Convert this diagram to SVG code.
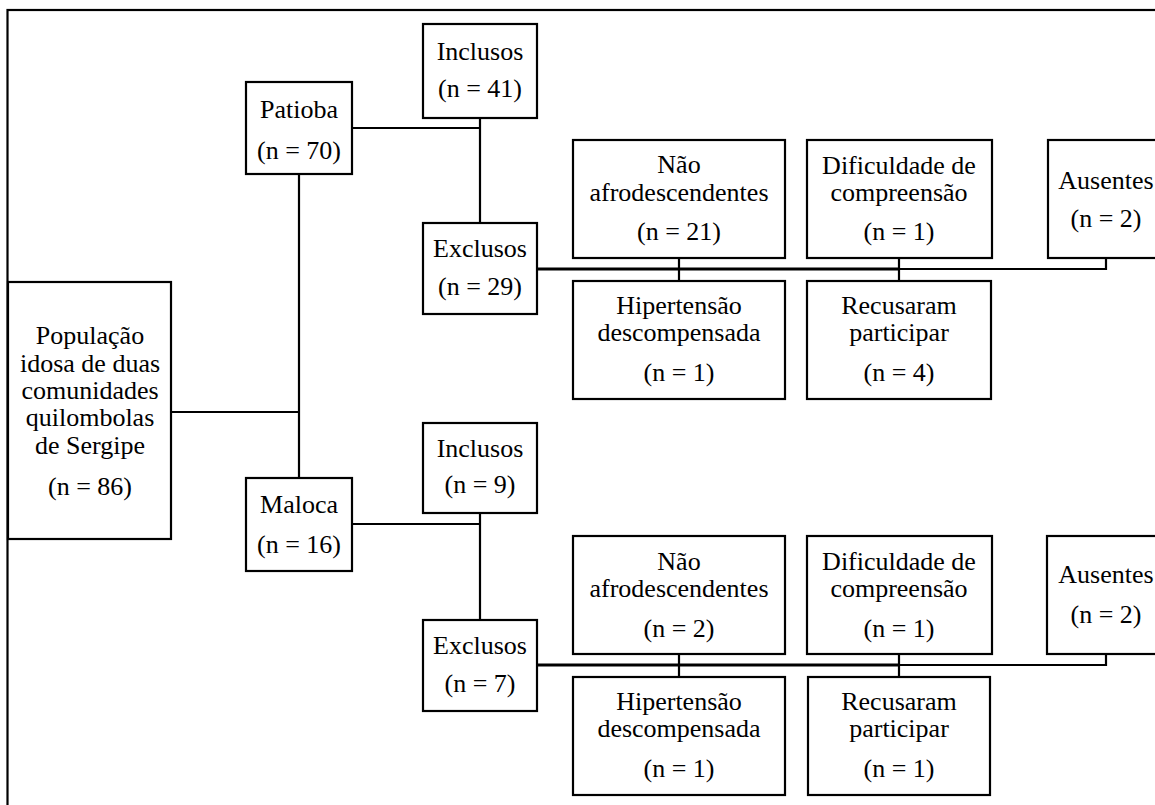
<svg xmlns="http://www.w3.org/2000/svg" width="1155" height="805" viewBox="0 0 1155 805" font-family="'Liberation Serif', 'DejaVu Serif', serif">
<style>
.box{fill:#fff;stroke:#000;stroke-width:2.2}
.ln{fill:none;stroke:#000;stroke-width:2.2}
.bus{fill:none;stroke:#000;stroke-width:3}
text{font-family:'Liberation Serif','DejaVu Serif',serif;font-size:26px;fill:#000;text-anchor:middle}
</style>
<rect x="0" y="0" width="1155" height="805" fill="#fff"/>
<rect x="7.5" y="10" width="1200" height="900" fill="none" stroke="#000" stroke-width="2.2"/>
<g id="connectors">
<path class="ln" d="M171 412H299M299 174V478"/>
<path class="ln" d="M352 128H480M480 118V223"/>
<path class="ln" d="M352 524H480M480 513V620"/>
<path class="bus" d="M537 269H899"/>
<path class="ln" d="M899 269H1106V258M679 258V281M899 258V281"/>
<path class="bus" d="M537 665H899"/>
<path class="ln" d="M899 665H1106V654M679 654V677M899 654V677"/>
</g>
<g id="populacao">
<rect class="box" x="8" y="282" width="163" height="257"/>
<text x="90" y="344">População</text>
<text x="90" y="372">idosa de duas</text>
<text x="90" y="399">comunidades</text>
<text x="90" y="426">quilombolas</text>
<text x="90" y="454">de Sergipe</text>
<text x="90" y="495">(n = 86)</text>
</g>
<g id="patioba">
<rect class="box" x="246" y="82" width="106" height="92"/>
<text x="299" y="118">Patioba</text>
<text x="299" y="159">(n = 70)</text>
</g>
<g id="maloca">
<rect class="box" x="246" y="478" width="106" height="93"/>
<text x="299" y="513">Maloca</text>
<text x="299" y="553">(n = 16)</text>
</g>
<g id="inclusos1">
<rect class="box" x="423" y="24" width="114" height="94"/>
<text x="480" y="60">Inclusos</text>
<text x="480" y="97">(n = 41)</text>
</g>
<g id="exclusos1">
<rect class="box" x="423" y="223" width="114" height="91"/>
<text x="480" y="257">Exclusos</text>
<text x="480" y="295">(n = 29)</text>
</g>
<g id="inclusos2">
<rect class="box" x="423" y="423" width="114" height="90"/>
<text x="480" y="457">Inclusos</text>
<text x="480" y="493">(n = 9)</text>
</g>
<g id="exclusos2">
<rect class="box" x="423" y="620" width="114" height="91"/>
<text x="480" y="654">Exclusos</text>
<text x="480" y="692">(n = 7)</text>
</g>
<g id="naoafro1">
<rect class="box" x="573" y="140" width="212" height="118"/>
<text x="679" y="173">Não</text>
<text x="679" y="201">afrodescendentes</text>
<text x="679" y="240">(n = 21)</text>
</g>
<g id="dificuldade1">
<rect class="box" x="807" y="140" width="185" height="118"/>
<text x="899" y="174">Dificuldade de</text>
<text x="899" y="201">compreensão</text>
<text x="899" y="240">(n = 1)</text>
</g>
<g id="ausentes1">
<rect class="box" x="1048" y="140" width="120" height="118"/>
<text x="1106" y="189">Ausentes</text>
<text x="1106" y="227">(n = 2)</text>
</g>
<g id="hipertensao1">
<rect class="box" x="573" y="281" width="212" height="118"/>
<text x="679" y="314">Hipertensão</text>
<text x="679" y="341">descompensada</text>
<text x="679" y="381">(n = 1)</text>
</g>
<g id="recusaram1">
<rect class="box" x="807" y="281" width="184" height="118"/>
<text x="899" y="314">Recusaram</text>
<text x="899" y="341">participar</text>
<text x="899" y="381">(n = 4)</text>
</g>
<g id="naoafro2">
<rect class="box" x="573" y="536" width="212" height="118"/>
<text x="679" y="570">Não</text>
<text x="679" y="597">afrodescendentes</text>
<text x="679" y="637">(n = 2)</text>
</g>
<g id="dificuldade2">
<rect class="box" x="807" y="536" width="185" height="118"/>
<text x="899" y="570">Dificuldade de</text>
<text x="899" y="597">compreensão</text>
<text x="899" y="637">(n = 1)</text>
</g>
<g id="ausentes2">
<rect class="box" x="1047" y="536" width="120" height="118"/>
<text x="1106" y="583">Ausentes</text>
<text x="1106" y="623">(n = 2)</text>
</g>
<g id="hipertensao2">
<rect class="box" x="573" y="677" width="212" height="118"/>
<text x="679" y="710">Hipertensão</text>
<text x="679" y="737">descompensada</text>
<text x="679" y="777">(n = 1)</text>
</g>
<g id="recusaram2">
<rect class="box" x="808" y="677" width="182" height="118"/>
<text x="899" y="710">Recusaram</text>
<text x="899" y="737">participar</text>
<text x="899" y="777">(n = 1)</text>
</g>
</svg>
